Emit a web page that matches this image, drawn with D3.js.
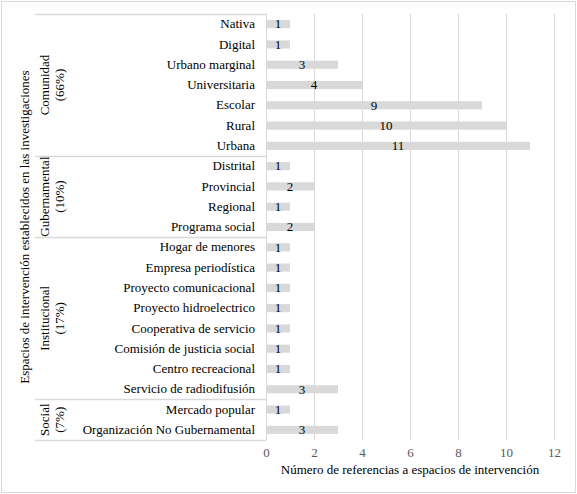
<!DOCTYPE html>
<html>
<head>
<meta charset="utf-8">
<script src="https://cdn.jsdelivr.net/npm/d3@7"></script>
<style>
  body { margin: 0; background: #fff; }
  svg text { font-family: "Liberation Serif", Tinos, "Times New Roman", Times, "DejaVu Serif", serif !important; }
</style>
</head>
<body>
<div id="chart"></div>
<script>
// categories, top to bottom as drawn
const categories = [
  "Nativa", "Digital", "Urbano marginal", "Universitaria", "Escolar", "Rural", "Urbana",
  "Distrital", "Provincial", "Regional", "Programa social",
  "Hogar de menores", "Empresa periodística", "Proyecto comunicacional", "Proyecto hidroelectrico",
  "Cooperativa de servicio", "Comisión de justicia social", "Centro recreacional", "Servicio de radiodifusión",
  "Mercado popular", "Organización No Gubernamental"
];
const values = [1, 1, 3, 4, 9, 10, 11, 1, 2, 1, 2, 1, 1, 1, 1, 1, 1, 1, 3, 1, 3];

// groups: name, percentage, how many categories belong to it
const groupNames = ["Comunidad", "Gubernamental", "Institucional", "Social"];
const groupPct = ["(66%)", "(10%)", "(17%)", "(7%)"];
const groupSizes = [7, 4, 8, 2];

const xTicks = [0, 2, 4, 6, 8, 10, 12];

const width = 577, height = 494;
const margin = { top: 14, right: 23, bottom: 54, left: 266 };
const serif = '"Liberation Serif", Tinos, "Times New Roman", Times, "DejaVu Serif", serif';

const svg = d3.select("#chart").append("svg")
    .attr("width", width)
    .attr("height", height)
    .attr("font-family", serif);

// outer frame
svg.append("rect")
    .attr("x", 1.5).attr("y", 1.5)
    .attr("width", width - 3).attr("height", height - 3)
    .attr("fill", "none")
    .attr("stroke", "#d9d9d9");

const x = d3.scaleLinear()
    .domain([0, 12])
    .range([margin.left, width - margin.right]);

const y = d3.scaleBand()
    .domain(categories)
    .range([margin.top, height - margin.bottom])
    .paddingInner(0.6)
    .paddingOuter(0.3);

const step = y.step();

// vertical gridlines
svg.append("g")
    .selectAll("line")
    .data(xTicks.slice(1))
    .enter()
    .append("line")
    .attr("x1", d => x(d) + 0.5)
    .attr("x2", d => x(d) + 0.5)
    .attr("y1", margin.top)
    .attr("y2", height - margin.bottom)
    .attr("stroke", "#d9d9d9");

// bars
svg.append("g")
    .selectAll("rect")
    .data(values)
    .enter()
    .append("rect")
    .attr("x", x(0))
    .attr("y", (d, i) => y(categories[i]))
    .attr("width", d => x(d) - x(0))
    .attr("height", y.bandwidth())
    .attr("fill", "#d9d9d9");

// value labels
svg.append("g")
    .selectAll("text")
    .data(values)
    .enter()
    .append("text")
    .attr("x", d => (x(0) + x(d)) / 2)
    .attr("y", (d, i) => y(categories[i]) + y.bandwidth() / 2)
    .attr("dy", "0.33em")
    .attr("text-anchor", "middle")
    .attr("font-size", 13)
    .attr("fill", "#000")
    .text(d => d);

// x axis
const xAxis = svg.append("g")
    .attr("transform", `translate(0,${height - margin.bottom})`)
    .call(d3.axisBottom(x).tickValues(xTicks).tickSize(0).tickPadding(8));
xAxis.attr("font-family", serif);
xAxis.select(".domain").remove();
xAxis.selectAll("text")
    .attr("font-size", 13)
    .attr("fill", "#595959");

// y axis (category labels)
const yAxis = svg.append("g")
    .attr("transform", `translate(${margin.left},0)`)
    .call(d3.axisLeft(y).tickSize(0).tickPadding(11));
yAxis.attr("font-family", serif);
yAxis.select(".domain").attr("stroke", "#d9d9d9").attr("d", `M0.5,${margin.top}V${height - margin.bottom}`);
yAxis.selectAll("text")
    .attr("font-size", 13)
    .attr("fill", "#000");

// group boundaries sit between rows
const groupLeft = 35;
const edges = [margin.top];
let acc = 0;
groupSizes.forEach((n, gi) => {
    acc += n;
    if (gi === groupSizes.length - 1) edges.push(height - margin.bottom);
    else edges.push(y(categories[acc]) - (step - y.bandwidth()) / 2);
});

svg.append("g")
    .selectAll("line")
    .data(edges)
    .enter()
    .append("line")
    .attr("x1", groupLeft)
    .attr("x2", margin.left)
    .attr("y1", d => Math.round(d) + 0.5)
    .attr("y2", d => Math.round(d) + 0.5)
    .attr("stroke", "#d9d9d9")
    .attr("stroke-width", 1.5);

const gl = svg.append("g");
groupNames.forEach((name, gi) => {
    const cy = (edges[gi] + edges[gi + 1]) / 2;
    const t = gl.append("text")
        .attr("transform", `translate(52,${cy}) rotate(-90)`)
        .attr("text-anchor", "middle")
        .attr("font-size", 13)
        .attr("fill", "#000");
    t.append("tspan").attr("x", 0).attr("dy", "-0.25em").text(name);
    t.append("tspan").attr("x", 0).attr("dy", "1.15em").text(groupPct[gi]);
});

// axis titles
svg.append("text")
    .attr("transform", `translate(29,${(margin.top + height - margin.bottom) / 2}) rotate(-90)`)
    .attr("text-anchor", "middle")
    .attr("font-size", 13)
    .attr("fill", "#000")
    .text("Espacios de intervención establecidos en las investigaciones");

svg.append("text")
    .attr("x", (x(0) + x(12)) / 2)
    .attr("y", 474)
    .attr("text-anchor", "middle")
    .attr("font-size", 13)
    .attr("fill", "#000")
    .text("Número de referencias a espacios de intervención");
</script>
</body>
</html>
